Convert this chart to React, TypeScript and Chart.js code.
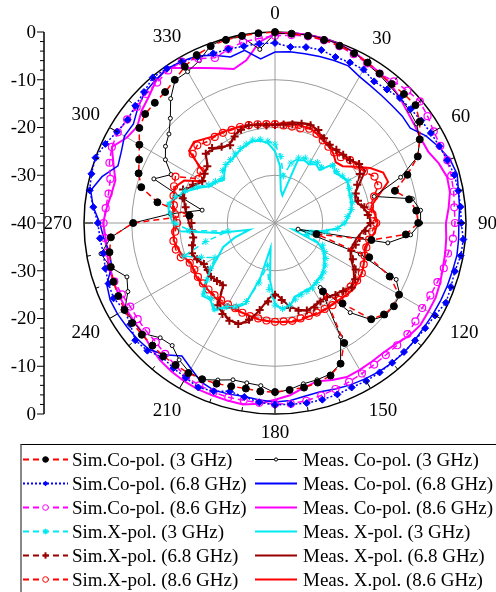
import React, { useEffect, useRef } from 'react';
import { Chart, registerables } from 'chart.js';
Chart.register(...registerables);

// angles in degrees (5° steps), clockwise from top
const angleLabels: string[] = Array.from({ length: 72 }, (_, i) => String(i * 5));
const angleTickLabels = ['0', '30', '60', '90', '120', '150', '180', '210', '240', '270', '300', '330'];
const radialTicks = [0, -10, -20, -30, -40];

// dB values at 0,5,10,...,355 degrees
const simCo3 = [0, -0.2, -0.2, -0.3, -0.5, -0.8, -1.2, -1.8, -2.0, -1.8, -1.6, -3.0, -5.0, -7.0, -10.5, -14.0, -11.5, -10.3, -10.0, -12.5, -19.5, -31.0, -19.0, -13.5, -10.0, -9.6, -10.2, -11.5, -18.0, -22.5, -11.0, -7.5, -6.0, -5.4, -5.0, -4.9, -4.6, -4.6, -4.8, -4.6, -4.2, -3.9, -3.7, -3.7, -3.6, -3.7, -3.6, -3.5, -3.6, -3.8, -4.0, -4.4, -4.8, -5.5, -10.3, -22.0, -15.0, -11.0, -9.6, -8.6, -7.2, -5.3, -4.5, -4.4, -4.2, -3.4, -2.2, -1.2, -0.6, -0.3, -0.2, -0.1];
const simCo68 = [-2.3, -3.0, -2.6, -2.5, -3.0, -2.9, -2.9, -3.8, -3.5, -3.0, -2.9, -2.6, -2.3, -2.0, -1.6, -1.1, -1.0, -1.0, -1.0, -0.4, -0.5, -1.0, -0.8, -0.5, -1.3, -1.6, -1.7, -1.8, -1.8, -1.8, -1.8, -2.0, -1.8, -1.7, -1.7, -1.9, -1.9, -2.3, -3.0, -3.5, -2.5, -2.0, -2.6, -2.9, -3.3, -2.2, -1.8, -3.0, -3.6, -2.7, -2.9, -3.2, -3.5, -3.2, -2.9, -1.8, -0.6, -0.2, 0, -0.8, -1.8, -2.3, -1.8, -1.2, -0.2, -0.5, -1.0, -1.6, -2.2, -2.3, -2.4, -2.3];
const simCo86 = [-0.8, -0.5, -0.3, -0.4, -0.6, -1.0, -1.4, -1.8, -1.3, -0.8, -0.4, -1.0, -1.6, -1.8, -1.6, -1.8, -2.0, -2.3, -2.3, -2.6, -3.2, -3.4, -3.8, -4.1, -4.4, -4.1, -3.8, -3.8, -3.9, -3.8, -3.6, -3.3, -3.0, -2.6, -2.2, -2.0, -2.1, -2.2, -2.3, -2.2, -2.3, -2.5, -2.8, -3.6, -4.2, -4.7, -4.8, -4.9, -5.0, -4.6, -4.2, -4.2, -4.3, -4.2, -4.1, -4.4, -4.6, -4.3, -3.1, -2.3, -2.0, -2.2, -2.2, -1.8, -1.6, -1.0, -1.0, -2.0, -3.2, -2.3, -1.5, -1.2];
const simX3 = [-23.5, -26.0, -30.0, -27.0, -25.5, -25.0, -25.2, -24.5, -24.8, -23.0, -23.2, -22.8, -22.3, -22.8, -23.0, -23.2, -23.8, -24.8, -25.5, -26.8, -29.0, -32.0, -33.0, -29.0, -28.0, -27.0, -26.3, -25.5, -25.0, -24.8, -24.3, -24.2, -24.0, -23.5, -22.5, -22.0, -22.8, -26.0, -31.0, -27.0, -22.5, -20.8, -19.8, -18.0, -19.3, -19.0, -21.5, -23.5, -25.5, -23.0, -19.7, -25.0, -30.0, -22.0, -19.0, -18.0, -17.5, -18.5, -20.0, -22.0, -24.0, -24.8, -25.5, -24.5, -24.0, -23.8, -23.3, -22.8, -22.4, -22.0, -22.2, -22.8];
const simX68 = [-19.5, -19.3, -19.0, -18.5, -18.2, -18.5, -19.5, -20.0, -20.0, -19.8, -19.5, -18.5, -19.5, -21.0, -22.0, -22.0, -21.0, -20.5, -20.0, -21.0, -22.0, -22.5, -23.0, -22.0, -20.5, -19.5, -19.0, -19.8, -20.3, -21.0, -21.0, -20.5, -20.5, -21.0, -22.0, -23.8, -25.0, -23.5, -21.5, -19.0, -17.5, -17.4, -18.0, -19.0, -23.0, -22.8, -22.5, -22.8, -22.8, -22.0, -21.5, -22.0, -22.6, -22.5, -22.5, -22.0, -21.0, -20.0, -19.5, -21.0, -22.4, -22.0, -21.5, -19.5, -19.5, -20.5, -21.2, -20.0, -19.2, -18.8, -19.2, -19.5];
const simX86 = [-19.3, -19.5, -19.5, -19.5, -19.0, -19.4, -20.0, -20.5, -20.7, -20.5, -19.5, -19.0, -18.5, -17.0, -17.0, -18.5, -19.8, -19.5, -18.8, -19.6, -20.0, -20.2, -20.0, -19.5, -19.0, -19.0, -19.3, -19.2, -19.0, -19.0, -19.2, -19.3, -19.3, -19.3, -19.2, -19.3, -19.3, -19.5, -19.7, -19.8, -20.0, -20.3, -20.3, -20.3, -20.3, -20.3, -20.3, -20.3, -20.5, -20.3, -19.0, -18.5, -18.4, -19.0, -19.5, -19.0, -18.5, -18.0, -17.5, -17.0, -21.5, -21.0, -17.5, -17.0, -17.8, -18.0, -18.2, -18.5, -18.6, -18.8, -19.0, -19.2];
const measCo3 = [-0.3, -0.2, 0, -0.1, -0.2, -0.6, -1.5, -2.0, -2.6, -2.9, -3.3, -3.8, -5.0, -7.0, -12.0, -18.5, -10.8, -9.4, -9.5, -11.5, -16.0, -35.0, -21.0, -12.0, -9.8, -9.7, -9.8, -11.3, -15.5, -23.5, -12.5, -7.5, -6.3, -6.0, -5.8, -5.0, -4.4, -5.8, -6.0, -6.0, -5.0, -3.8, -4.0, -5.0, -6.5, -6.0, -4.0, -3.8, -3.7, -6.0, -7.0, -4.3, -3.0, -5.5, -10.3, -18.0, -24.5, -20.0, -13.0, -16.0, -13.5, -12.0, -11.0, -9.0, -6.0, -3.5, -3.4, -2.5, -0.5, 0, -0.5, -3.5];
const measCo68 = [-4.2, -4.0, -4.0, -3.9, -3.8, -3.7, -4.6, -5.0, -5.2, -5.3, -5.2, -5.4, -3.5, -2.2, -1.0, -0.5, -1.0, -1.2, -1.5, -1.4, -1.3, -1.5, -1.6, -1.7, -1.8, -1.9, -1.8, -1.7, -1.8, -2.0, -2.3, -2.6, -3.0, -3.4, -3.2, -2.7, -2.5, -2.8, -3.1, -2.9, -2.7, -3.3, -4.8, -6.0, -4.0, -2.6, -2.3, -2.1, -1.9, -1.9, -2.5, -4.6, -4.8, -4.0, -3.3, -1.8, -0.8, -2.5, -5.0, -4.5, -3.6, -3.8, -2.5, -1.4, -1.0, -0.6, -0.9, -1.4, -2.6, -4.0, -3.3, -5.5];
const measCo86 = [-0.3, 0, 0, 0, -0.2, -0.6, -1.2, -1.7, -2.2, -3.0, -3.8, -4.3, -4.7, -4.6, -3.5, -2.7, -2.8, -3.5, -4.2, -4.0, -3.8, -3.6, -3.2, -2.9, -2.9, -2.8, -3.3, -4.2, -4.6, -4.6, -4.5, -4.4, -5.0, -5.7, -5.0, -3.8, -3.0, -2.0, -1.4, -1.5, -1.6, -1.6, -1.8, -2.1, -2.5, -3.2, -3.9, -4.0, -4.0, -4.0, -4.0, -4.0, -4.3, -4.4, -4.0, -4.6, -5.2, -5.4, -4.0, -2.3, -4.2, -4.8, -3.5, -2.6, -1.2, -0.4, -2.5, -4.2, -5.5, -6.6, -5.4, -2.0];
const measX3 = [-25.0, -28.0, -33.0, -34.0, -26.0, -25.5, -25.8, -25.0, -25.5, -22.5, -23.7, -23.0, -22.5, -23.0, -23.3, -23.5, -23.7, -24.5, -25.3, -27.0, -30.0, -34.0, -36.0, -30.0, -28.3, -27.5, -26.5, -25.8, -25.3, -25.0, -24.5, -24.5, -24.3, -24.0, -22.2, -21.8, -23.0, -28.0, -34.7, -28.0, -22.0, -20.3, -19.5, -17.6, -19.0, -18.5, -21.0, -24.0, -26.4, -28.0, -31.0, -34.5, -28.0, -20.0, -18.6, -17.8, -17.2, -18.7, -20.5, -22.5, -24.5, -25.0, -26.0, -25.0, -24.0, -24.0, -23.6, -23.0, -22.6, -22.2, -22.5, -23.2];
const measX68 = [-19.3, -19.0, -18.6, -18.3, -18.0, -18.8, -19.8, -20.3, -20.2, -19.7, -19.5, -18.5, -18.2, -20.5, -22.2, -22.5, -21.3, -20.2, -20.0, -21.5, -22.5, -23.0, -23.2, -22.5, -21.0, -19.8, -19.2, -20.0, -20.5, -21.0, -21.2, -20.8, -20.5, -21.2, -22.2, -24.0, -25.3, -24.0, -21.5, -18.5, -17.6, -17.5, -18.3, -19.5, -23.2, -23.0, -22.3, -22.5, -22.8, -21.8, -21.5, -22.3, -22.8, -22.3, -22.0, -21.5, -20.8, -20.3, -19.8, -21.3, -22.6, -22.0, -21.6, -19.5, -19.8, -20.8, -21.0, -19.8, -19.0, -18.8, -19.0, -19.2];
const measX86 = [-19.5, -19.3, -19.0, -19.0, -18.8, -19.3, -20.0, -20.3, -21.0, -22.0, -21.5, -19.5, -17.0, -15.0, -14.8, -17.5, -19.5, -19.0, -18.5, -19.0, -19.8, -20.5, -20.0, -19.5, -19.0, -18.8, -18.5, -18.8, -19.0, -19.2, -19.0, -19.0, -19.2, -19.0, -19.0, -19.2, -19.3, -19.4, -19.5, -19.8, -20.0, -20.0, -19.8, -19.8, -20.0, -20.2, -20.0, -20.0, -20.3, -20.5, -19.5, -19.0, -18.5, -18.6, -19.0, -18.6, -18.3, -18.0, -17.8, -19.0, -22.5, -22.0, -16.5, -16.0, -17.0, -17.8, -18.0, -18.3, -18.5, -18.8, -19.0, -19.3];

const RED = '#ff0000';
const BLUE = '#0000ff';
const MAG = '#ff00ff';
const CYAN = '#00e8f0';
const DRED = '#990000';
const FONT = '"Liberation Serif", "Times New Roman", serif';

type Item = {
  label: string; data: number[]; color: string; dash: number[]; width: number;
  marker: string | false; mSize: number; mFill: string; mStroke: string; mWidth: number;
};

const items: Item[] = [
  { label: 'Sim.Co-pol. (3 GHz)', data: simCo3, color: RED, dash: [6, 4], width: 1.5, marker: 'circle', mSize: 3.5, mFill: '#000', mStroke: '#000', mWidth: 1 },
  { label: 'Sim.Co-pol. (6.8 GHz)', data: simCo68, color: BLUE, dash: [2, 2], width: 1.5, marker: 'rectRot', mSize: 3.5, mFill: BLUE, mStroke: BLUE, mWidth: 1 },
  { label: 'Sim.Co-pol. (8.6 GHz)', data: simCo86, color: MAG, dash: [6, 4], width: 1.5, marker: 'circle', mSize: 3.5, mFill: 'rgba(0,0,0,0)', mStroke: MAG, mWidth: 1.2 },
  { label: 'Sim.X-pol. (3 GHz)', data: simX3, color: CYAN, dash: [6, 4], width: 1.5, marker: 'star', mSize: 3.5, mFill: CYAN, mStroke: CYAN, mWidth: 1 },
  { label: 'Sim.X-pol. (6.8 GHz)', data: simX68, color: DRED, dash: [6, 4], width: 1.5, marker: 'cross', mSize: 4, mFill: DRED, mStroke: DRED, mWidth: 2 },
  { label: 'Sim.X-pol. (8.6 GHz)', data: simX86, color: RED, dash: [6, 4], width: 1.5, marker: 'circle', mSize: 3.5, mFill: 'rgba(0,0,0,0)', mStroke: RED, mWidth: 1.2 },
  { label: 'Meas. Co-pol. (3 GHz)', data: measCo3, color: '#000', dash: [], width: 1, marker: 'circle', mSize: 2, mFill: '#fff', mStroke: '#000', mWidth: 1 },
  { label: 'Meas. Co-pol. (6.8 GHz)', data: measCo68, color: BLUE, dash: [], width: 1.5, marker: false, mSize: 0, mFill: BLUE, mStroke: BLUE, mWidth: 0 },
  { label: 'Meas. Co-pol. (8.6 GHz)', data: measCo86, color: MAG, dash: [], width: 2, marker: false, mSize: 0, mFill: MAG, mStroke: MAG, mWidth: 0 },
  { label: 'Meas. X-pol. (3 GHz)', data: measX3, color: CYAN, dash: [], width: 2, marker: false, mSize: 0, mFill: CYAN, mStroke: CYAN, mWidth: 0 },
  { label: 'Meas. X-pol. (6.8 GHz)', data: measX68, color: DRED, dash: [], width: 2, marker: false, mSize: 0, mFill: DRED, mStroke: DRED, mWidth: 0 },
  { label: 'Meas. X.pol. (8.6 GHz)', data: measX86, color: RED, dash: [], width: 2, marker: false, mSize: 0, mFill: RED, mStroke: RED, mWidth: 0 },
];

const overlayPlugin = {
  id: 'overlay',
  afterDraw(chart: any) {
    const s = chart.scales.r;
    const ctx = chart.ctx as CanvasRenderingContext2D;
    const cx = s.xCenter, cy = s.yCenter, R = s.drawingArea;
    const n = angleLabels.length;
    ctx.save();
    // ticks on outer ring
    ctx.strokeStyle = '#000';
    ctx.lineWidth = 1;
    for (let i = 0; i < n; i += 2) {
      const major = i % 6 === 0;
      const p1 = s.getPointPosition(i, R);
      const p2 = s.getPointPosition(i, R - (major ? 9 : 4));
      ctx.beginPath();
      ctx.moveTo(p1.x, p1.y);
      ctx.lineTo(p2.x, p2.y);
      ctx.stroke();
    }
    // angle labels
    ctx.font = '19px ' + FONT;
    ctx.fillStyle = '#000';
    ctx.textAlign = 'center';
    ctx.textBaseline = 'middle';
    angleTickLabels.forEach((lbl) => {
      const idx = angleLabels.indexOf(lbl);
      const a = (idx / n) * Math.PI * 2;
      const w = ctx.measureText(lbl).width;
      const dist = R + 12 + Math.abs(Math.sin(a)) * w / 2 + Math.abs(Math.cos(a)) * 6.5;
      const p = s.getPointPosition(idx, dist);
      ctx.fillText(lbl, p.x, p.y + 1);
    });
    // left radial axis
    const ax = 44;
    const yTop = cy - s.getDistanceFromCenterForValue(0);
    const yBot = cy + s.getDistanceFromCenterForValue(0);
    ctx.lineWidth = 1.5;
    ctx.beginPath();
    ctx.moveTo(ax, yTop);
    ctx.lineTo(ax, yBot);
    ctx.stroke();
    ctx.lineWidth = 1;
    for (let v = -38; v < 0; v += 2) {
      if (v % 10 === 0) continue;
      const d = s.getDistanceFromCenterForValue(v);
      [cy - d, cy + d].forEach((y) => {
        ctx.beginPath();
        ctx.moveTo(ax - 4, y);
        ctx.lineTo(ax, y);
        ctx.stroke();
      });
    }
    ctx.textAlign = 'right';
    radialTicks.forEach((v) => {
      const d = s.getDistanceFromCenterForValue(v);
      const ys = d === 0 ? [cy] : [cy - d, cy + d];
      ys.forEach((y) => {
        ctx.beginPath();
        ctx.moveTo(ax - 7, y);
        ctx.lineTo(ax, y);
        ctx.stroke();
        ctx.fillText(String(v), ax - 8, y + 1);
      });
    });
    ctx.restore();
  },
};

function Marker({ it, x, y }: { it: Item; x: number; y: number }) {
  if (!it.marker) return null;
  const r = it.mSize * 0.8;
  if (it.marker === 'circle') {
    return <circle cx={x} cy={y} r={r} fill={it.mFill === 'rgba(0,0,0,0)' ? '#fff' : it.mFill} stroke={it.mStroke} strokeWidth={1} />;
  }
  if (it.marker === 'rectRot') {
    return <polygon points={`${x},${y - r} ${x + r},${y} ${x},${y + r} ${x - r},${y}`} fill={it.mFill} />;
  }
  if (it.marker === 'cross') {
    return (
      <g stroke={it.mStroke} strokeWidth={2}>
        <line x1={x - r} y1={y} x2={x + r} y2={y} />
        <line x1={x} y1={y - r} x2={x} y2={y + r} />
      </g>
    );
  }
  if (it.marker === 'star') {
    return (
      <g stroke={it.mStroke} strokeWidth={1.3}>
        <line x1={x - r} y1={y} x2={x + r} y2={y} />
        <line x1={x} y1={y - r} x2={x} y2={y + r} />
        <line x1={x - r * 0.7} y1={y - r * 0.7} x2={x + r * 0.7} y2={y + r * 0.7} />
        <line x1={x - r * 0.7} y1={y + r * 0.7} x2={x + r * 0.7} y2={y - r * 0.7} />
      </g>
    );
  }
  return null;
}

export default function App() {
  const ref = useRef<HTMLCanvasElement | null>(null);
  useEffect(() => {
    if (!ref.current) return;
    const chart = new Chart(ref.current, {
      type: 'radar',
      data: {
        labels: angleLabels,
        datasets: items.map((it) => ({
          label: it.label,
          data: it.data,
          borderColor: it.color,
          borderWidth: it.width,
          borderDash: it.dash,
          fill: false,
          tension: 0,
          pointStyle: it.marker || 'circle',
          pointRadius: it.marker ? it.mSize : 0,
          pointHoverRadius: 0,
          pointBackgroundColor: it.mFill,
          pointBorderColor: it.mStroke,
          pointBorderWidth: it.mWidth,
        })),
      },
      options: {
        responsive: false,
        animation: false,
        events: [],
        layout: { padding: { left: 84, right: 30, top: 32, bottom: 178 } },
        plugins: { legend: { display: false }, tooltip: { enabled: false } },
        scales: {
          r: {
            min: -40,
            max: 0,
            ticks: { display: false, stepSize: 10 },
            pointLabels: { display: false },
            grid: {
              circular: true,
              color: (c: any) => (c.tick && c.tick.value === 0 ? '#000' : '#9a9a9a'),
              lineWidth: (c: any) => (c.tick && c.tick.value === 0 ? 1.5 : 1),
            },
            angleLines: {
              display: true,
              color: '#9a9a9a',
              lineWidth: (c: any) => (c.index % 6 === 0 ? 1 : 0),
            },
          },
        },
      } as any,
      plugins: [overlayPlugin],
    });
    return () => chart.destroy();
  }, []);

  const rowY = (row: number) => 459.5 + row * 24;
  const colLine = [[23, 68], [255, 297]];
  const colText = [72, 303];

  return (
    <div style={{ position: 'absolute', left: 0, top: 0, width: 496, height: 592, overflow: 'hidden', background: '#fff' }}>
      <canvas ref={ref} width={496} height={592} style={{ position: 'absolute', left: 0, top: 0, width: 496, height: 592 }} />
      <div style={{ position: 'absolute', left: 20, top: 444, width: 520, height: 160, borderTop: '1px solid #000', borderLeft: '2px solid #888', boxSizing: 'border-box' }} />
      <svg width={496} height={592} style={{ position: 'absolute', left: 0, top: 0 }}>
        {items.map((it, i) => {
          const col = i < 6 ? 0 : 1;
          const row = i % 6;
          const y = rowY(row);
          const [x1, x2] = colLine[col];
          return (
            <g key={i}>
              <line x1={x1} y1={y} x2={x2} y2={y} stroke={it.color} strokeWidth={it.width === 1 ? 1 : 2} strokeDasharray={it.dash.length ? it.dash.join(' ') : undefined} />
              <Marker it={it} x={(x1 + x2) / 2} y={y} />
            </g>
          );
        })}
      </svg>
      {items.map((it, i) => {
        const col = i < 6 ? 0 : 1;
        const row = i % 6;
        return (
          <span key={i} style={{ position: 'absolute', left: colText[col], top: rowY(row) - 11, height: 22, lineHeight: '22px', fontFamily: FONT, fontSize: 19, color: '#000', whiteSpace: 'nowrap' }}>
            {it.label}
          </span>
        );
      })}
    </div>
  );
}
